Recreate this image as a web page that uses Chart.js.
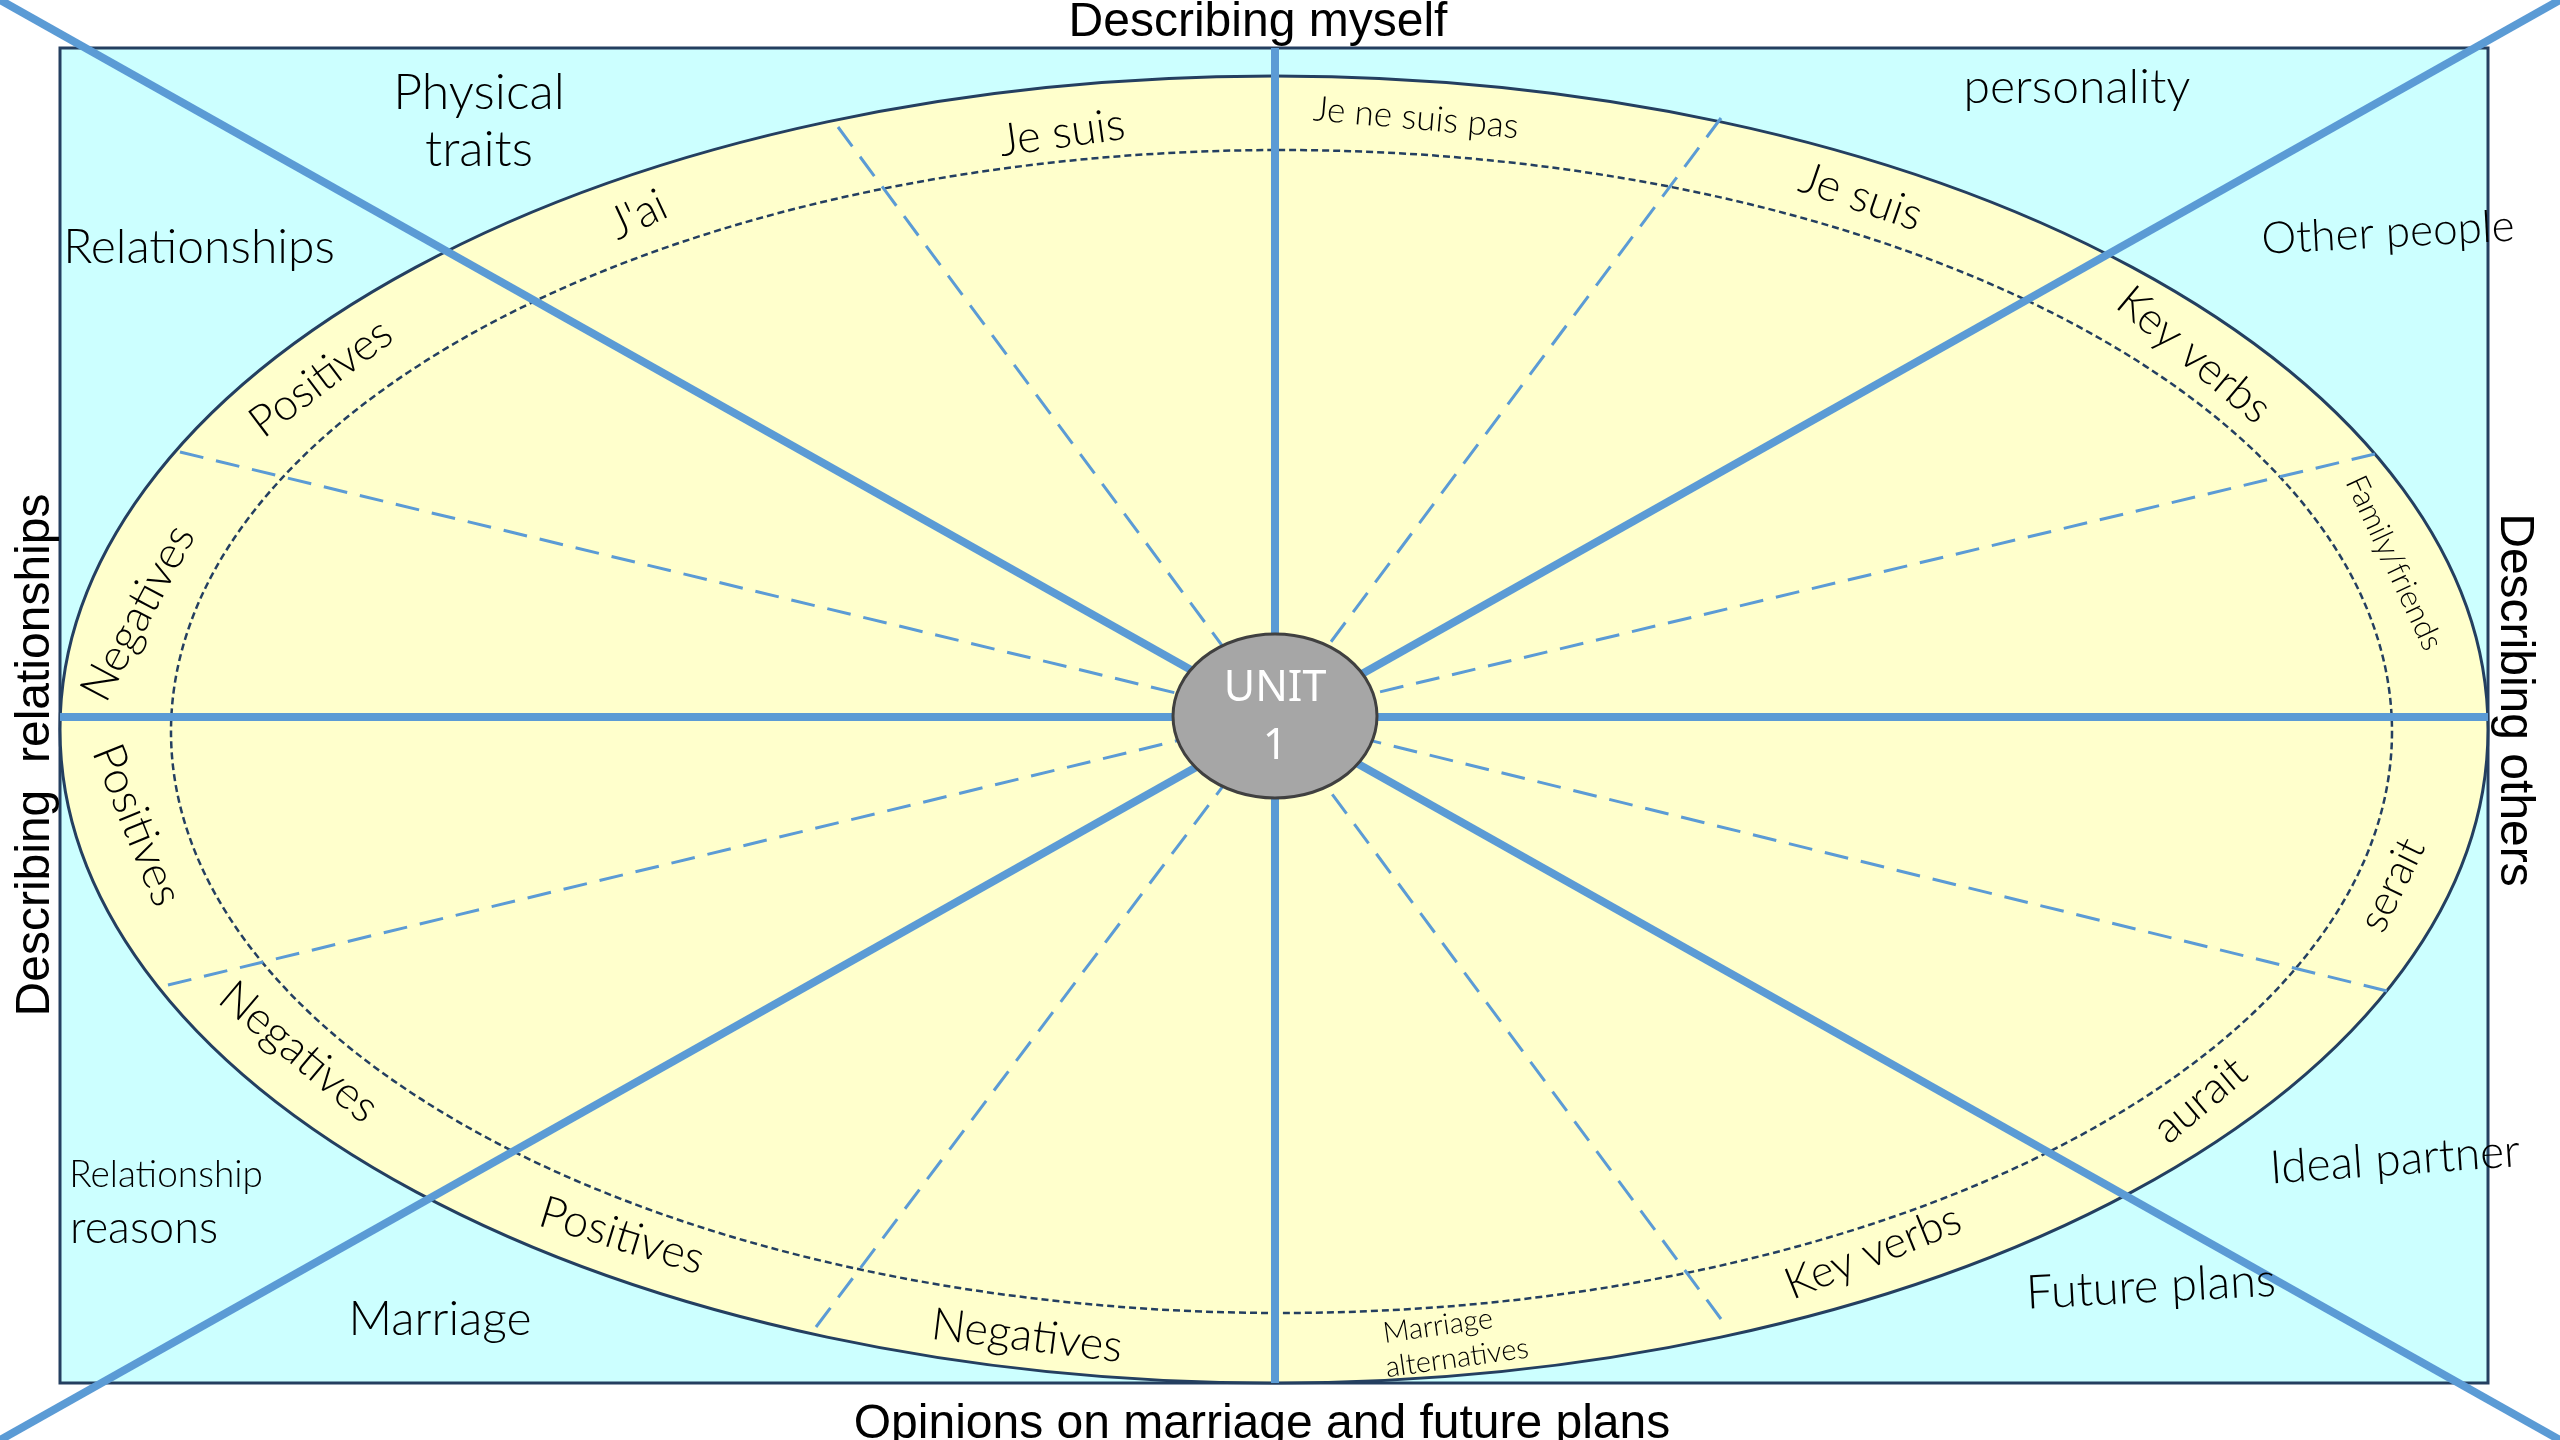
<!DOCTYPE html>
<html><head><meta charset="utf-8">
<script src="https://cdn.jsdelivr.net/npm/chart.js@4.4.1/dist/chart.umd.min.js"></script>
<style>html,body{margin:0;padding:0;background:#fff;overflow:hidden}canvas{display:block}</style>
</head><body>
<canvas id="c" width="2560" height="1440"></canvas>
<script>
// ---- diagram values (diagram units: 0..2560 across, 0..1440 down) ----
const hubX = 1275, hubY = 717;
const hubText = ['UNIT', '1'];

const solidStartX = [0, 2560, 1275, 60];
const solidStartY = [0, 0, 48, 717];
const solidEndX   = [2560, 0, 1275, 2488];
const solidEndY   = [1440, 1440, 1383, 717];

const dashedEndX = [838, 1721, 2375, 2387, 1721, 816, 168, 180];
const dashedEndY = [127, 118, 454, 991, 1319, 1327, 985, 452];

const frameBox = [60, 48, 2488, 1383];      // left, top, right, bottom
const outerRing = [60, 76, 2488, 1383];
const innerRing = [171, 150, 2392, 1313];
const hubRing = [1173, 634, 1377, 798];

const sectionTitles = ['Describing myself', 'Describing others', 'Opinions on marriage and future plans', 'Describing  relationships'];

const topicLabels = ['Physical', 'traits', 'Relationships', 'personality', 'Other people', 'Ideal partner', 'Future plans', 'Marriage', 'Relationship', 'reasons'];

const ringLabels = ["J'ai", 'Positives', 'Je suis', 'Je ne suis pas', 'Je suis', 'Key verbs', 'Family/friends', 'serait', 'aurait', 'Key verbs', 'Marriage', 'alternatives', 'Negatives', 'Positives', 'Negatives', 'Positives', 'Negatives'];

// ---- layout (positions / sizes / angles) ----
const topicLayout = [
  [479, 93, 0, 50], [479, 150, 0, 50], [199, 248, 0, 48], [2077, 88, 0, 48],
  [2388, 233, -3, 44], [2395, 1160, -4, 46], [2151, 1287, -3, 47], [440, 1320, 0, 48],
  [166, 1175, 0, 37], [144, 1228, 0, 45]
];
const ringLayout = [
  [638, 215, -25, 45], [321, 378, -37, 44], [1062, 133, -8, 45], [1416, 118, 5, 35],
  [1861, 197, 19, 45], [2194, 355, 40, 44], [2394, 563, 65, 31], [2392, 885, -64, 42],
  [2200, 1100, -40, 44], [1873, 1252, -22, 44], [1438, 1326, -8, 29], [1457, 1358, -8, 29],
  [1027, 1336, 7, 45], [622, 1236, 17, 45], [299, 1052, 40, 45], [137, 825, 68, 45], [138, 613, -62, 45]
];
const titleLayout = [[1258, 36, 0], [2501, 700, 90], [1262, 1438, 0], [49, 755, -90]];

const HAND = '"Lato", "Open Sans", sans-serif';

function X(chart, v) { return chart.scales.x.getPixelForValue(v); }
function Y(chart, v) { return chart.scales.y.getPixelForValue(v); }
function ellipsePath(ctx, chart, b) {
  const l = X(chart, b[0]), t = Y(chart, b[1]), r = X(chart, b[2]), bt = Y(chart, b[3]);
  ctx.beginPath();
  ctx.ellipse((l + r) / 2, (t + bt) / 2, Math.abs(r - l) / 2, Math.abs(bt - t) / 2, 0, 0, Math.PI * 2);
}
function text(ctx, chart, s, x, y, ang, font, color, baseline) {
  ctx.save();
  ctx.translate(X(chart, x), Y(chart, y));
  ctx.rotate(ang * Math.PI / 180);
  ctx.font = font;
  ctx.fillStyle = color;
  ctx.textAlign = 'center';
  ctx.textBaseline = baseline || 'middle';
  ctx.fillText(s, 0, 0);
  ctx.restore();
}

const backdrop = {
  id: 'backdrop',
  beforeDatasetsDraw(chart) {
    const ctx = chart.ctx;
    ctx.save();
    const l = X(chart, frameBox[0]), t = Y(chart, frameBox[1]), r = X(chart, frameBox[2]), b = Y(chart, frameBox[3]);
    ctx.fillStyle = '#CCFFFF';
    ctx.fillRect(l, t, r - l, b - t);
    ctx.lineWidth = 3; ctx.strokeStyle = '#243F60';
    ctx.strokeRect(l, t, r - l, b - t);
    ellipsePath(ctx, chart, outerRing);
    ctx.fillStyle = '#FFFFCC'; ctx.fill();
    ctx.lineWidth = 3; ctx.strokeStyle = '#243F60'; ctx.stroke();
    ellipsePath(ctx, chart, innerRing);
    ctx.setLineDash([7, 4]); ctx.lineWidth = 2.5; ctx.strokeStyle = '#243F60'; ctx.stroke();
    ctx.restore();
  },
  afterDatasetsDraw(chart) {
    const ctx = chart.ctx;
    ctx.save();
    ellipsePath(ctx, chart, hubRing);
    ctx.fillStyle = '#A6A6A6'; ctx.fill();
    ctx.lineWidth = 3; ctx.strokeStyle = '#404040'; ctx.stroke();
    text(ctx, chart, hubText[0], hubX, hubY - 28, 0, '43px "Noto Sans", sans-serif', '#FFFFFF');
    text(ctx, chart, hubText[1], hubX, hubY + 30, 0, '43px "Noto Sans", sans-serif', '#FFFFFF');
    topicLabels.forEach((s, i) => {
      const L = topicLayout[i];
      text(ctx, chart, s, L[0], L[1], L[2], '300 ' + L[3] + 'px ' + HAND, '#000');
    });
    ringLabels.forEach((s, i) => {
      const L = ringLayout[i];
      text(ctx, chart, s, L[0], L[1], L[2], '300 ' + L[3] + 'px ' + HAND, '#000');
    });
    sectionTitles.forEach((s, i) => {
      const L = titleLayout[i];
      text(ctx, chart, s, L[0], L[1], L[2], '48px "Liberation Sans", Arial, sans-serif', '#000', 'alphabetic');
    });
    ctx.restore();
  }
};

const datasets = [];
for (let i = 0; i < solidStartX.length; i++) {
  datasets.push({
    data: [{x: solidStartX[i], y: solidStartY[i]}, {x: solidEndX[i], y: solidEndY[i]}],
    showLine: true, borderColor: '#5B9BD5', borderWidth: 8, pointRadius: 0, borderCapStyle: 'butt'
  });
}
for (let i = 0; i < dashedEndX.length; i++) {
  datasets.push({
    data: [{x: dashedEndX[i], y: dashedEndY[i]}, {x: hubX, y: hubY}],
    showLine: true, borderColor: '#5B9BD5', borderWidth: 3, pointRadius: 0, borderDash: [24, 13]
  });
}

new Chart(document.getElementById('c'), {
  type: 'scatter',
  data: { datasets },
  options: {
    responsive: false, animation: false, events: [],
    layout: { padding: 0 },
    plugins: { legend: { display: false }, tooltip: { enabled: false } },
    scales: {
      x: { type: 'linear', min: 0, max: 2560, display: false },
      y: { type: 'linear', min: 0, max: 1440, reverse: true, display: false }
    }
  },
  plugins: [backdrop]
});
</script>
</body></html>
